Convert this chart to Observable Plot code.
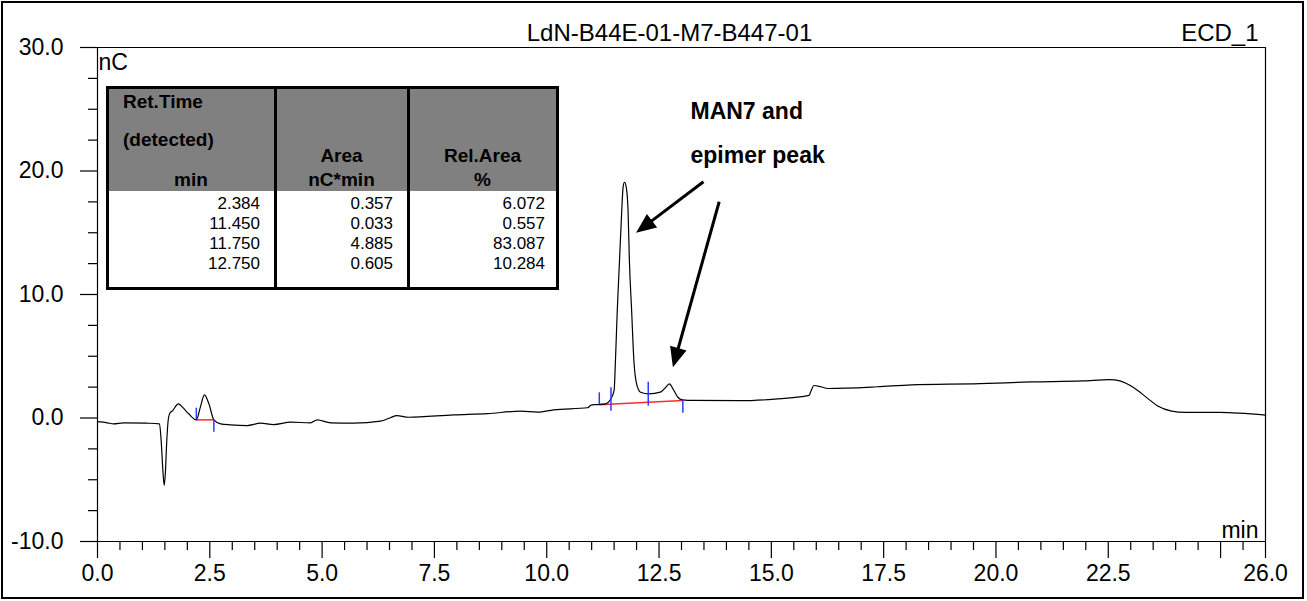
<!DOCTYPE html>
<html>
<head>
<meta charset="utf-8">
<script src="https://cdn.jsdelivr.net/npm/d3@7"></script>
<script src="https://cdn.jsdelivr.net/npm/@observablehq/plot@0.6"></script>
<style>
  html, body { margin: 0; padding: 0; background: #fff; }
  #wrap { position: relative; width: 1307px; height: 601px; overflow: hidden; font-family: "Liberation Sans", Arial, sans-serif; }
  #frame { position: absolute; left: 1px; top: 1px; width: 1303px; height: 598px; border: 2px solid #000; box-sizing: border-box; pointer-events: none; }
  #chart { position: absolute; left: 0; top: 0; }
  .tb { position: absolute; }
  .tbt { position: absolute; height: 20px; line-height: 20px; white-space: nowrap; color: #000; }
  .hd { font-weight: bold; font-size: 19px; }
  .dt { font-size: 17px; }
</style>
</head>
<body>
<div id="wrap">
  <div id="chart"></div>
  <div id="table"></div>
  <div id="frame"></div>
</div>
<script>
// ---------------- data ----------------
const titleText = "LdN-B44E-01-M7-B447-01";
const channelText = "ECD_1";
const yUnit = "nC";
const xUnit = "min";

// chromatogram trace (time in min, signal in nC)
const time = [0, 0.22, 0.36, 0.58, 1.1, 1.38, 1.42, 1.46, 1.485, 1.51, 1.54, 1.58, 1.62, 1.66, 1.80, 1.89, 2.03, 2.20,
  2.29, 2.38, 2.48, 2.59, 2.74, 2.96, 3.33, 3.63, 3.92, 4.30, 4.74, 4.89, 5.19, 5.70, 6.30, 6.52, 6.66, 6.92, 7.93,
  8.68, 9.42, 9.80, 10.15, 10.91, 11.0, 11.15, 11.31, 11.42, 11.50, 11.53, 11.57, 11.62, 11.67, 11.70, 11.73, 11.77,
  11.81, 11.84, 11.89, 11.94, 12.0, 12.09, 12.27, 12.53, 12.64, 12.73, 12.83, 12.92, 13.02, 13.28, 14.31, 15.08,
  15.84, 15.88, 15.95, 16.10, 16.26, 17.36, 18.12, 19.64, 20.78, 21.93, 22.53, 22.76, 23.07, 23.37, 23.6, 23.91,
  24.21, 24.97, 26.0];
const signal = [-0.3, -0.39, -0.47, -0.39, -0.42, -0.47, -2.0, -4.5, -5.45, -4.5, -2.0, 0.0, 0.45, 0.55, 1.15, 0.88, 0.34, -0.15,
  0.88, 1.88, 1.15, -0.15, -0.47, -0.55, -0.61, -0.42, -0.53, -0.34, -0.39, -0.15, -0.39, -0.42, -0.26, 0.02, 0.20, 0.06, 0.26,
  0.36, 0.55, 0.47, 0.66, 0.83, 1.07, 1.09, 1.15, 1.50, 2.23, 4.66, 8.70, 12.75, 16.80, 18.69, 19.09, 18.69,
  16.80, 12.75, 8.70, 4.66, 2.77, 2.09, 1.96, 2.09, 2.45, 2.77, 2.23, 1.68, 1.47, 1.42, 1.40, 1.53,
  1.83, 2.16, 2.63, 2.53, 2.39, 2.53, 2.69, 2.78, 2.92, 3.0, 3.11, 3.0, 2.44, 1.61, 0.97, 0.56,
  0.45, 0.45, 0.23];

// integration baselines (red)
const baseT1 = [2.20, 11.17];
const baseV1 = [-0.15, 1.07];
const baseT2 = [2.59, 13.03];
const baseV2 = [-0.15, 1.42];

// peak delimiters (blue)
const markT  = [2.20, 2.59, 11.17, 11.43, 12.26, 13.03];
const markV1 = [-0.15, -1.15, 1.07, 0.55, 0.96, 0.39];
const markV2 = [0.79, -0.15, 2.04, 2.45, 2.90, 1.42];

// annotation
const annoText = ["MAN7 and", "epimer peak"];
const annoT = [13.2, 13.2];
const annoV = [24.82, 21.26];
const arrowT1 = [13.50, 13.85];
const arrowV1 = [19.09, 17.47];
const arrowT2 = [12.00, 12.82];
const arrowV2 = [14.96, 4.06];

// axes
const yMajor = [-10, 0, 10, 20, 30];
const yMinor = [-7.5, -5, -2.5, 2.5, 5, 7.5, 12.5, 15, 17.5, 22.5, 25, 27.5];
const xMajor = [0, 2.5, 5, 7.5, 10, 12.5, 15, 17.5, 20, 22.5, 25, 26];
const xTickLabels = ["0.0", "2.5", "5.0", "7.5", "10.0", "12.5", "15.0", "17.5", "20.0", "22.5", "", "26.0"];
const xMinor = [0.5, 1, 1.5, 2, 3, 3.5, 4, 4.5, 5.5, 6, 6.5, 7, 8, 8.5, 9, 9.5, 10.5, 11, 11.5, 12, 13, 13.5, 14, 14.5,
  15.5, 16, 16.5, 17, 18, 18.5, 19, 19.5, 20.5, 21, 21.5, 22, 23, 23.5, 24, 24.5, 25.5];

// peak table
const tblHeader1 = ["Ret.Time", "(detected)", "min"];
const tblHeader2 = ["Area", "nC*min"];
const tblHeader3 = ["Rel.Area", "%"];
const tblRetTime = ["2.384", "11.450", "11.750", "12.750"];
const tblArea = ["0.357", "0.033", "4.885", "0.605"];
const tblRelArea = ["6.072", "0.557", "83.087", "10.284"];

// ---------------- build ----------------
const trace = time.map((t, i) => ({t, v: signal[i]}));
const baselines = baseT1.map((t, i) => ({x1: t, y1: baseV1[i], x2: baseT2[i], y2: baseV2[i]}));
const marks = markT.map((t, i) => ({t, v1: markV1[i], v2: markV2[i]}));
const annos = annoText.map((s, i) => ({s, t: annoT[i], v: annoV[i]}));
const arrows = arrowT1.map((t, i) => ({x1: t, y1: arrowV1[i], x2: arrowT2[i], y2: arrowV2[i]}));
const xLabelOf = new Map(xMajor.map((d, i) => [d, xTickLabels[i]]));

function arrowMark(index, scales) {
  const g = d3.create("svg:g");
  for (const a of arrows) {
    const x1 = scales.x(a.x1), y1 = scales.y(a.y1), x2 = scales.x(a.x2), y2 = scales.y(a.y2);
    const ang = Math.atan2(y2 - y1, x2 - x1);
    const L = 20, W = 8.5;
    const bx = x2 - L * Math.cos(ang), by = y2 - L * Math.sin(ang);
    const px = -Math.sin(ang) * W, py = Math.cos(ang) * W;
    g.append("line").attr("x1", x1).attr("y1", y1).attr("x2", bx + Math.cos(ang) * 2).attr("y2", by + Math.sin(ang) * 2)
      .attr("stroke", "#000").attr("stroke-width", 3);
    g.append("path").attr("d", `M${x2},${y2}L${bx + px},${by + py}L${bx - px},${by - py}Z`).attr("fill", "#000");
  }
  return g.node();
}

const chart = Plot.plot({
  width: 1307,
  height: 601,
  marginLeft: 97,
  marginRight: 42,
  marginTop: 47,
  marginBottom: 60,
  x: {domain: [0, 26]},
  y: {domain: [-10, 30]},
  style: {fontFamily: "'Liberation Sans', Arial, sans-serif", fontSize: "23px", color: "#000", background: "transparent", overflow: "visible"},
  marks: [
    Plot.axisY(yMajor, {tickSize: 17, tickPadding: 17, tickFormat: d => d.toFixed(1), label: null, strokeWidth: 1.2}),
    Plot.axisY(yMinor, {tickSize: 9, tickFormat: () => "", label: null, strokeWidth: 1.2}),
    Plot.axisX(xMajor, {tickSize: 17, tickPadding: 6, tickFormat: d => xLabelOf.get(d), label: null, strokeWidth: 1.2}),
    Plot.axisX(xMinor, {tickSize: 9, tickFormat: () => "", label: null, strokeWidth: 1.2}),
    Plot.ruleX([0, 26], {stroke: "#000", strokeWidth: 1.2}),
    Plot.ruleY([-10, 30], {stroke: "#000", strokeWidth: 1.2}),
    Plot.link(baselines, {x1: "x1", y1: "y1", x2: "x2", y2: "y2", stroke: "#ff2a2a", strokeWidth: 1.5}),
    Plot.line(trace, {x: "t", y: "v", stroke: "#000", strokeWidth: 1.2, curve: "monotone-x"}),
    Plot.ruleX(marks, {x: "t", y1: "v1", y2: "v2", stroke: "#2a3cff", strokeWidth: 1.5}),
    Plot.text([titleText], {text: d => d, frameAnchor: "top", dx: -12, dy: -14, lineAnchor: "middle", fontSize: 24}),
    Plot.text([channelText], {text: d => d, frameAnchor: "top-right", textAnchor: "end", dx: -7, dy: -14, lineAnchor: "middle", fontSize: 24}),
    Plot.text([yUnit], {text: d => d, frameAnchor: "top-left", textAnchor: "start", dx: 1, dy: 15, lineAnchor: "middle"}),
    Plot.text([xUnit], {text: d => d, frameAnchor: "bottom-right", textAnchor: "end", dx: -7, dy: -11, lineAnchor: "middle"}),
    Plot.text(annos, {x: "t", y: "v", text: "s", textAnchor: "start", lineAnchor: "middle", fontWeight: "bold", fontSize: 23}),
    arrowMark
  ]
});
document.getElementById("chart").appendChild(chart);

// ---------------- peak table (HTML inset) ----------------
const T = {left: 107, top: 87, right: 557, bottom: 288, headBottom: 191, col1: 275, col2: 408, bw: 3};
const tbl = document.getElementById("table");
function box(l, t, w, h, bg) {
  const d = document.createElement("div");
  d.className = "tb";
  Object.assign(d.style, {left: l + "px", top: t + "px", width: w + "px", height: h + "px", background: bg});
  tbl.appendChild(d);
  return d;
}
function txt(s, cls, cy, opts) {
  const d = document.createElement("div");
  d.className = "tbt " + cls;
  d.textContent = s;
  d.style.top = (cy - 10) + "px";
  if (opts.left != null) { d.style.left = opts.left + "px"; }
  if (opts.right != null) { d.style.left = (opts.right - 200) + "px"; d.style.width = "200px"; d.style.textAlign = "right"; }
  if (opts.center != null) { d.style.left = (opts.center - 100) + "px"; d.style.width = "200px"; d.style.textAlign = "center"; }
  tbl.appendChild(d);
}
const h = T.bw / 2;
box(T.left, T.top, T.right - T.left, T.headBottom - T.top, "#808080");
box(T.left - h, T.top - h, T.right - T.left + T.bw, T.bw, "#000");
box(T.left - h, T.bottom - h, T.right - T.left + T.bw, T.bw, "#000");
box(T.left - h, T.top - h, T.bw, T.bottom - T.top + T.bw, "#000");
box(T.right - h, T.top - h, T.bw, T.bottom - T.top + T.bw, "#000");
box(T.col1 - h, T.top - h, T.bw, T.bottom - T.top + T.bw, "#000");
box(T.col2 - h, T.top - h, T.bw, T.bottom - T.top + T.bw, "#000");

const c1 = (T.left + T.col1) / 2, c2 = (T.col1 + T.col2) / 2, c3 = (T.col2 + T.right) / 2;
txt(tblHeader1[0], "hd", 102, {left: 123});
txt(tblHeader1[1], "hd", 140, {left: 123});
txt(tblHeader1[2], "hd", 180, {center: c1});
txt(tblHeader2[0], "hd", 156, {center: c2});
txt(tblHeader2[1], "hd", 180, {center: c2});
txt(tblHeader3[0], "hd", 156, {center: c3});
txt(tblHeader3[1], "hd", 180, {center: c3});
const rowY = [204, 224, 244, 264];
tblRetTime.forEach((s, i) => txt(s, "dt", rowY[i], {right: 260}));
tblArea.forEach((s, i) => txt(s, "dt", rowY[i], {right: 393}));
tblRelArea.forEach((s, i) => txt(s, "dt", rowY[i], {right: 545}));
</script>
</body>
</html>
